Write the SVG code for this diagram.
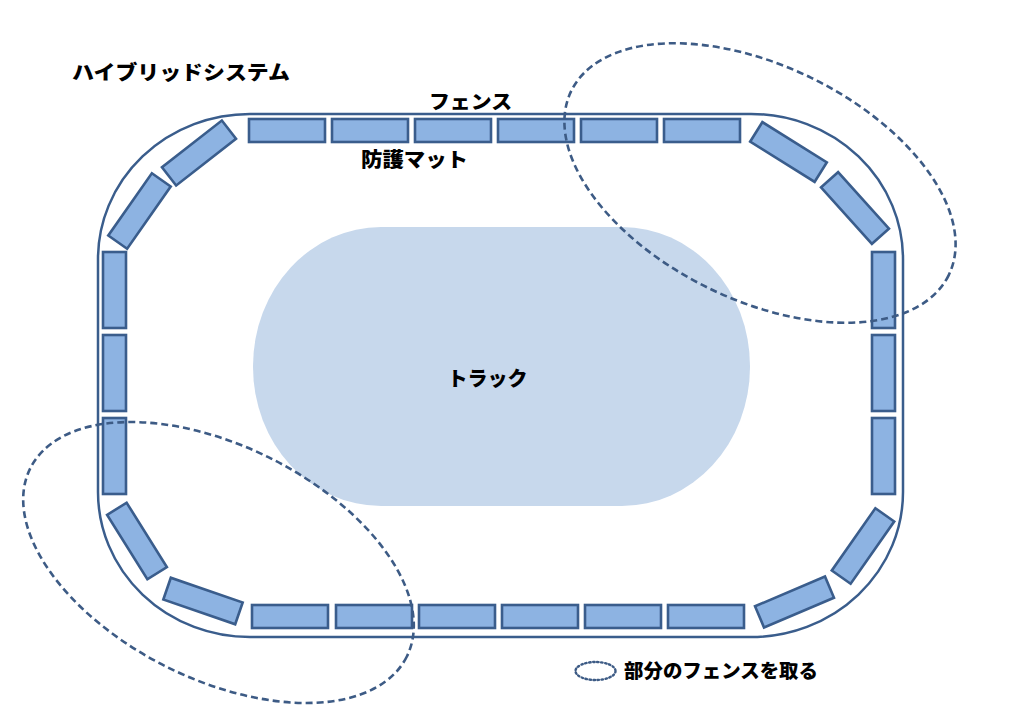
<svg xmlns="http://www.w3.org/2000/svg" width="1024" height="724" viewBox="0 0 1024 724">
<defs>
<style>
.mat{fill:#8db3e2;stroke:#3a5d8c;stroke-width:2.6}
.fence{fill:none;stroke:#3a5d8c;stroke-width:2.5}
.track{fill:#c7d8ec}
.dash{fill:none;stroke:#3d5b85;stroke-width:2.6;stroke-dasharray:7 4}
.dot{fill:none;stroke:#3d5b85;stroke-width:2.4;stroke-dasharray:1.5 2.5;stroke-linecap:round}
.t{font-family:"Noto Sans CJK JP","Noto Sans CJK SC",sans-serif;font-weight:900;fill:#000}
</style>
<rect id="m" class="mat" x="-38" y="-11.5" width="76" height="23"/>
</defs>
<rect width="1024" height="724" fill="#fff"/>
<g id="track">
<rect class="track" x="253" y="227" width="497" height="279" rx="128" ry="139"/>
<text class="t" x="487.5" y="386" font-size="20" text-anchor="middle">トラック</text>
</g>
<g id="fence">
<rect class="fence" x="98" y="114" width="805" height="523" rx="152" ry="145"/>
</g>
<g id="mats">
<rect class="mat" x="249" y="119" width="76" height="23"/>
<rect class="mat" x="332" y="119" width="76" height="23"/>
<rect class="mat" x="415" y="119" width="76" height="23"/>
<rect class="mat" x="498" y="119" width="76" height="23"/>
<rect class="mat" x="581" y="119" width="76" height="23"/>
<rect class="mat" x="664" y="119" width="76" height="23"/>
<rect class="mat" x="252" y="605" width="76" height="23"/>
<rect class="mat" x="336" y="605" width="76" height="23"/>
<rect class="mat" x="419" y="605" width="76" height="23"/>
<rect class="mat" x="502" y="605" width="76" height="23"/>
<rect class="mat" x="585" y="605" width="76" height="23"/>
<rect class="mat" x="668" y="605" width="76" height="23"/>
<rect class="mat" x="103" y="252" width="23" height="76"/>
<rect class="mat" x="103" y="335" width="23" height="76"/>
<rect class="mat" x="103" y="418" width="23" height="76"/>
<rect class="mat" x="872" y="252" width="23" height="76"/>
<rect class="mat" x="872" y="335" width="23" height="76"/>
<rect class="mat" x="872" y="418" width="23" height="76"/>
<use href="#m" transform="translate(199,153) rotate(-38)"/>
<use href="#m" transform="translate(139.5,211) rotate(-55)"/>
<use href="#m" transform="translate(788.5,152) rotate(32)"/>
<use href="#m" transform="translate(855,208) rotate(48)"/>
<use href="#m" transform="translate(137,541) rotate(58)"/>
<use href="#m" transform="translate(203,601) rotate(19)"/>
<use href="#m" transform="translate(863,546) rotate(-55)"/>
<use href="#m" transform="translate(794.5,602) rotate(-23)"/>
</g>
<g id="removed-areas">
<ellipse class="dash" cx="760" cy="183" rx="210" ry="117" transform="rotate(26 760 183)"/>
<ellipse class="dash" cx="218.5" cy="562.5" rx="210.5" ry="116.5" transform="rotate(26.6 218.5 562.5)"/>
</g>
<g id="labels">
<text class="t" x="72" y="80" font-size="20" textLength="218" lengthAdjust="spacingAndGlyphs">ハイブリッドシステム</text>
<text class="t" x="429" y="109" font-size="19" textLength="83" lengthAdjust="spacingAndGlyphs">フェンス</text>
<text class="t" x="361" y="167" font-size="20" textLength="107" lengthAdjust="spacingAndGlyphs">防護マット</text>
</g>
<g id="legend">
<ellipse class="dot" cx="595.5" cy="671" rx="20" ry="9"/>
<text class="t" x="624" y="678" font-size="19" textLength="194" lengthAdjust="spacingAndGlyphs">部分のフェンスを取る</text>
</g>
</svg>
